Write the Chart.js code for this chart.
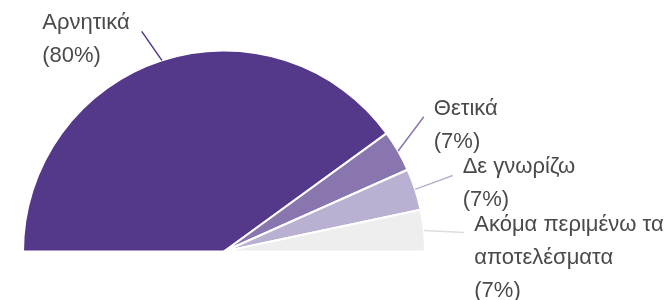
<!DOCTYPE html>
<html>
<head>
<meta charset="utf-8">
<script src="https://cdn.jsdelivr.net/npm/chart.js@4"></script>
<style>
  html, body { margin: 0; padding: 0; background: #fff; }
  #wrap { width: 670px; height: 300px; }
</style>
</head>
<body>
<div id="wrap"><canvas id="chart"></canvas></div>
<script>
// Answers and counts (15 responses)
const labels = ['Αρνητικά', 'Θετικά', 'Δε γνωρίζω', 'Ακόμα περιμένω τα αποτελέσματα'];
const counts = [12, 1, 1, 1];
const colors = ['#54388a', '#8a76ae', '#bab0d2', '#eeeeee'];
const lineColors = ['#54388a', '#8a76ae', '#bab0d2', '#dddddd'];

// label text split into lines, the percentage is added underneath
const labelLines = [['Αρνητικά'], ['Θετικά'], ['Δε γνωρίζω'], ['Ακόμα περιμένω τα', 'αποτελέσματα']];
// where the leader lines end (angle in degrees above the x axis)
const leaderAngles = [110.5, 34, 18.4, 4.5];

const outsideLabels = {
    id: 'outsideLabels',
    afterDatasetsDraw(chart) {
        const ctx = chart.ctx;
        const meta = chart.getDatasetMeta(0);
        const total = counts.reduce((a, b) => a + b, 0);
        ctx.save();
        ctx.font = '22px "Liberation Sans", Arial, sans-serif';
        ctx.textBaseline = 'middle';
        meta.data.forEach((arc, i) => {
            const cx = arc.x, cy = arc.y, r = arc.outerRadius;
            const mid = (arc.startAngle + arc.endAngle) / 2;
            const sx = cx + Math.cos(mid) * r;
            const sy = cy + Math.sin(mid) * r;
            const a = -leaderAngles[i] * Math.PI / 180;
            const len = i === 0 ? 34 : 40;
            const ex = cx + Math.cos(a) * (r + len);
            const ey = cy + Math.sin(a) * (r + len);
            ctx.strokeStyle = lineColors[i];
            ctx.lineWidth = 1.5;
            ctx.beginPath();
            ctx.moveTo(sx, sy);
            ctx.lineTo(ex, ey);
            ctx.stroke();

            const lines = labelLines[i].concat(['(' + Math.round(counts[i] / total * 100) + '%)']);
            const w = Math.max(...lines.map(t => ctx.measureText(t).width));
            const left = Math.cos(a) < 0;
            const tx = left ? ex - 12 - w : ex + 10;
            ctx.fillStyle = '#4a4a4a';
            ctx.textAlign = 'left';
            lines.forEach((t, k) => {
                ctx.fillText(t, tx, ey - 8 + k * 33);
            });
        });
        ctx.restore();
    }
};

new Chart(document.getElementById('chart'), {
    type: 'pie',
    data: {
        labels: labels,
        datasets: [{
            data: counts,
            backgroundColor: colors,
            borderColor: '#ffffff',
            borderWidth: 2,
            hoverOffset: 0
        }]
    },
    options: {
        responsive: true,
        maintainAspectRatio: false,
        animation: false,
        rotation: -90,
        circumference: 180,
        layout: { padding: { left: 22, right: 244, top: 49, bottom: 47 } },
        plugins: {
            legend: { display: false },
            tooltip: { enabled: false }
        }
    },
    plugins: [outsideLabels]
});
</script>
</body>
</html>
